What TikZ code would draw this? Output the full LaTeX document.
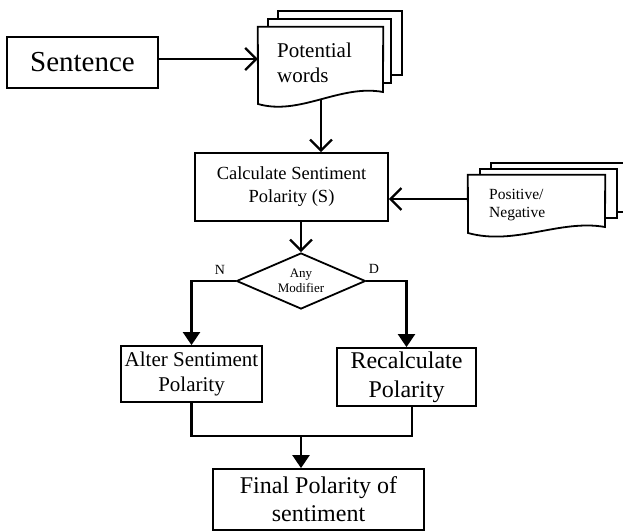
\documentclass[tikz,border=0pt]{standalone}
\usepackage{fontspec}
\setmainfont{Liberation Serif}
\usetikzlibrary{arrows.meta,shapes.geometric}
\begin{document}
\begin{tikzpicture}[x=1pt,y=-1pt,
  box/.style={draw,line width=1.8pt,inner sep=0pt,align=center},
  openarr/.style={line width=2.2pt,-{Straight Barb[length=11pt,width=22pt,line width=2.2pt]}},
  fillarr/.style={line width=2.2pt,-{Triangle[length=13pt,width=17pt]}},
  conn/.style={line width=2.2pt},
  sheet/.style={draw,line width=1.8pt,fill=white},
  lbl/.style={inner sep=0pt,font=\fontsize{14}{16}\selectfont}]
\useasboundingbox (0,0) rectangle (623,532);
\clip (0,0) rectangle (623,532);

% Sentence
\node[box,minimum width=151pt,minimum height=51pt,font=\fontsize{29}{33}\selectfont] (sent) at (82.5,62.5) {Sentence};

% Potential words document stack
\draw[sheet] (278,11) rectangle (402,75);
\draw[sheet] (268,19) rectangle (391,83);
\node[minimum width=125pt,minimum height=78pt,inner sep=0pt] (pw) at (320.5,66) {};
\draw[sheet] (pw.north west) -- (pw.north east) -- (383,92) .. controls (340,84) and (300,116) .. (258,104) -- cycle;
\node[inner sep=0pt,anchor=west,align=left,font=\fontsize{21}{25}\selectfont] (pwt) at (277,63) {Potential\\words};

% Calculate
\node[box,minimum width=193pt,minimum height=68pt,font=\fontsize{18.5}{23}\selectfont] (calc) at (291.5,187) {Calculate Sentiment\\Polarity (S)};

% Positive/Negative document stack
\draw[sheet] (491,163) rectangle (640,212);
\draw[sheet] (480,169) rectangle (617,218);
\node[minimum width=137pt,minimum height=58pt,inner sep=0pt] (pn) at (536.5,204) {};
\draw[sheet] (pn.north west) -- (pn.north east) -- (605,227) .. controls (560,219) and (515,246) .. (468,233) -- cycle;
\node[inner sep=0pt,anchor=west,align=left,font=\fontsize{15.5}{17.5}\selectfont] (pnt) at (489,205) {Positive/\\Negative};

% Decision
\node[diamond,draw,line width=1.8pt,aspect=2.3,minimum width=129pt,minimum height=56pt,inner sep=0pt,align=center,font=\fontsize{13}{15}\selectfont] (dia) at (301,281) {Any\\Modifier};

% Branch boxes
\node[box,minimum width=141pt,minimum height=56pt,font=\fontsize{21}{25}\selectfont] (alt) at (191.5,374) {Alter Sentiment\\Polarity};
\node[box,minimum width=139pt,minimum height=58pt,font=\fontsize{24}{29}\selectfont] (rec) at (406.5,377) {Recalculate\\Polarity};
\node[box,minimum width=211pt,minimum height=61pt,font=\fontsize{24}{28}\selectfont] (fin) at (318.5,499.5) {Final Polarity of\\sentiment};

% Labels
\node[lbl] (n) at (220,270) {N};
\node[lbl] (d) at (374,269) {D};

% Connectors
\draw[openarr] ([yshift=3.5pt]sent.east) -- ([yshift=3.5pt]sent.east -| pw.west);
\coordinate (pwb) at (321,100);
\draw[openarr] (pwb) -- (pwb |- calc.north);
\draw[openarr] ([yshift=5pt]pn.west) -- ([yshift=5pt]pn.west -| calc.east);
\draw[openarr] (dia.north |- calc.south) -- (dia.north);
\draw[fillarr] (dia.west) -| (alt.north);
\draw[fillarr] (dia.east) -| (rec.north);
\coordinate (j) at (412,436);
\draw[conn] (alt.south) |- (j) -- (j |- rec.south);
\draw[fillarr] (dia.south |- j) -- (dia.south |- fin.north);
\end{tikzpicture}
\end{document}
